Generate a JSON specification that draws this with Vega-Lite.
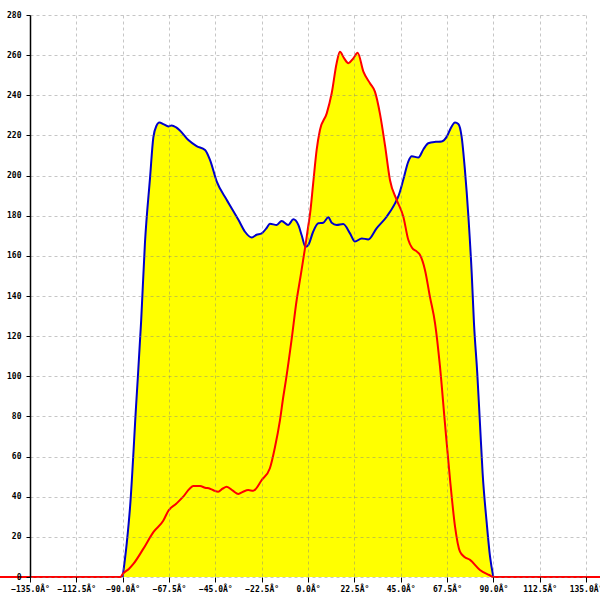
{
  "$schema": "https://vega.github.io/schema/vega-lite/v6.json",
  "autosize": "none",
  "width": 556,
  "height": 562,
  "padding": {"left": 30, "top": 15, "right": 14, "bottom": 23},
  "background": "white",
  "config": {"view": {"stroke": null}},
  "datasets": {
    "blue": [
      {"a": -90, "v": 0}, {"a": -88, "v": 17}, {"a": -86.4, "v": 35}, {"a": -83.5, "v": 85},
      {"a": -81, "v": 128}, {"a": -79.2, "v": 166}, {"a": -76.7, "v": 199}, {"a": -75.1, "v": 219},
      {"a": -73.5, "v": 225}, {"a": -72.2, "v": 226.5}, {"a": -70, "v": 225.5}, {"a": -67.8, "v": 224.5},
      {"a": -66.2, "v": 225}, {"a": -64, "v": 224}, {"a": -62.2, "v": 222.5}, {"a": -58.1, "v": 217.7},
      {"a": -54.1, "v": 214.7}, {"a": -50, "v": 212.7}, {"a": -47.6, "v": 207.8}, {"a": -44.3, "v": 197},
      {"a": -39.5, "v": 188}, {"a": -33.8, "v": 178}, {"a": -30.6, "v": 172}, {"a": -27.3, "v": 169.2},
      {"a": -25, "v": 170.5}, {"a": -22.5, "v": 171.2}, {"a": -20, "v": 174}, {"a": -18.5, "v": 176},
      {"a": -15.2, "v": 175.4}, {"a": -12.8, "v": 177.4}, {"a": -9.6, "v": 175.4}, {"a": -7.1, "v": 178.2},
      {"a": -4.7, "v": 175.4}, {"a": -3, "v": 170}, {"a": -1.2, "v": 164.5}, {"a": 0.2, "v": 165.5},
      {"a": 2.5, "v": 172}, {"a": 5, "v": 176.2}, {"a": 7.4, "v": 176.5}, {"a": 9.9, "v": 179.2},
      {"a": 11.5, "v": 176.5}, {"a": 13.9, "v": 175.4}, {"a": 17.1, "v": 175.9}, {"a": 20.4, "v": 171.2},
      {"a": 22.8, "v": 167.1}, {"a": 26.1, "v": 168.7}, {"a": 29.3, "v": 168.2}, {"a": 33.3, "v": 173.7},
      {"a": 38.2, "v": 179.5}, {"a": 42.2, "v": 186}, {"a": 44, "v": 190}, {"a": 46.3, "v": 198},
      {"a": 48.7, "v": 207}, {"a": 50.4, "v": 209.6}, {"a": 53.6, "v": 209}, {"a": 56, "v": 213},
      {"a": 58.4, "v": 216.1}, {"a": 62, "v": 216.8}, {"a": 64.9, "v": 217}, {"a": 67.4, "v": 219.4},
      {"a": 69.5, "v": 224}, {"a": 71.4, "v": 226.5}, {"a": 73, "v": 225.7}, {"a": 74.6, "v": 219.4},
      {"a": 76.2, "v": 202.8}, {"a": 77.9, "v": 179.5}, {"a": 79.5, "v": 151.3}, {"a": 80.6, "v": 126.4},
      {"a": 82.2, "v": 101.5}, {"a": 83.5, "v": 76.6}, {"a": 84.8, "v": 51.7}, {"a": 86.8, "v": 26.8},
      {"a": 88.4, "v": 10.1}, {"a": 90, "v": 0}
    ],
    "red": [
      {"a": -150, "v": 0}, {"a": -91, "v": 0}, {"a": -90, "v": 1.5}, {"a": -87, "v": 4},
      {"a": -84.8, "v": 6.5}, {"a": -80, "v": 14}, {"a": -75, "v": 22.5}, {"a": -70.3, "v": 28},
      {"a": -67.8, "v": 33}, {"a": -64, "v": 36.5}, {"a": -60.6, "v": 40}, {"a": -57.5, "v": 44},
      {"a": -55.7, "v": 45.3}, {"a": -52.4, "v": 45.3}, {"a": -50, "v": 44.5}, {"a": -47.6, "v": 44},
      {"a": -45.5, "v": 43}, {"a": -43.6, "v": 42.5}, {"a": -41.5, "v": 44}, {"a": -39.5, "v": 45},
      {"a": -36.5, "v": 43}, {"a": -33.8, "v": 41.4}, {"a": -31.5, "v": 42.5}, {"a": -29, "v": 43.3},
      {"a": -26.6, "v": 43}, {"a": -22.5, "v": 48.3}, {"a": -18.5, "v": 54.2}, {"a": -16, "v": 64.9},
      {"a": -13.6, "v": 78.2}, {"a": -12, "v": 89.8}, {"a": -10.7, "v": 98.2}, {"a": -8, "v": 118},
      {"a": -5.5, "v": 138}, {"a": -3.9, "v": 148}, {"a": -1.5, "v": 163.5}, {"a": 0, "v": 174},
      {"a": 1, "v": 181}, {"a": 2.5, "v": 196}, {"a": 4.2, "v": 212.8}, {"a": 5.8, "v": 222.7},
      {"a": 9.1, "v": 231}, {"a": 11.5, "v": 241}, {"a": 13.9, "v": 256}, {"a": 15.5, "v": 261.7},
      {"a": 17.5, "v": 258.5}, {"a": 19.6, "v": 256}, {"a": 22, "v": 258.4}, {"a": 24.1, "v": 261.2},
      {"a": 26.9, "v": 251.8}, {"a": 30.1, "v": 246}, {"a": 32.5, "v": 241.8}, {"a": 35, "v": 230.5},
      {"a": 37.4, "v": 215}, {"a": 39.8, "v": 197.8}, {"a": 43.1, "v": 187.8}, {"a": 46.3, "v": 179.5},
      {"a": 48.7, "v": 168}, {"a": 50.5, "v": 164}, {"a": 53, "v": 162}, {"a": 54.4, "v": 160.4},
      {"a": 56.8, "v": 153}, {"a": 59.2, "v": 139.7}, {"a": 61.7, "v": 126.4}, {"a": 64.1, "v": 104.8},
      {"a": 66.5, "v": 76.6}, {"a": 69, "v": 48.3}, {"a": 71.4, "v": 25.1}, {"a": 73.8, "v": 12.6},
      {"a": 76, "v": 10}, {"a": 78.7, "v": 8.5}, {"a": 83.5, "v": 3.5}, {"a": 88, "v": 1},
      {"a": 90, "v": 0}, {"a": 150, "v": 0}
    ]
  },
  "encoding": {
    "x": {
      "field": "a", "type": "quantitative",
      "scale": {"domain": [-135, 135], "nice": false, "zero": false},
      "axis": {
        "title": null, "zindex": 1, "domain": false,
        "values": [-135, -112.5, -90, -67.5, -45, -22.5, 0, 22.5, 45, 67.5, 90, 112.5, 135],
        "labelExpr": "format(datum.value, '.1f') + 'Â°'",
        "labelFont": "DejaVu Sans Mono", "labelFontSize": 8, "labelFontWeight": "bold", "labelColor": "black",
        "labelPadding": 3, "labelFlush": false, "labelOverlap": false,
        "tickColor": "black", "tickSize": 5, "tickWidth": 1,
        "grid": true, "gridColor": "#808080", "gridOpacity": 0.45, "gridDash": [3, 3], "gridWidth": 1
      }
    },
    "y": {
      "field": "v", "type": "quantitative",
      "scale": {"domain": [0, 280], "nice": false},
      "axis": {
        "title": null, "zindex": 1,
        "values": [0, 20, 40, 60, 80, 100, 120, 140, 160, 180, 200, 220, 240, 260, 280],
        "labelFont": "DejaVu Sans Mono", "labelFontSize": 8, "labelFontWeight": "bold", "labelColor": "black",
        "labelPadding": 5, "labelFlush": false, "labelOverlap": false,
        "domainColor": "black", "domainWidth": 1.5,
        "tickColor": "black", "tickSize": 4, "tickWidth": 1,
        "grid": true, "gridColor": "#808080", "gridOpacity": 0.45, "gridDash": [3, 3], "gridWidth": 1
      }
    }
  },
  "layer": [
    {"data": {"name": "blue"}, "mark": {"type": "area", "color": "#FFFF00", "opacity": 1, "interpolate": "monotone"}},
    {"data": {"name": "red"}, "mark": {"type": "area", "color": "#FFFF00", "opacity": 1, "clip": true, "interpolate": "monotone"}},
    {"data": {"name": "blue"}, "mark": {"type": "line", "color": "#0000CC", "strokeWidth": 2, "interpolate": "monotone"}},
    {"data": {"name": "red"}, "mark": {"type": "line", "color": "#FF0000", "strokeWidth": 2, "clip": false, "interpolate": "monotone"}}
  ]
}
